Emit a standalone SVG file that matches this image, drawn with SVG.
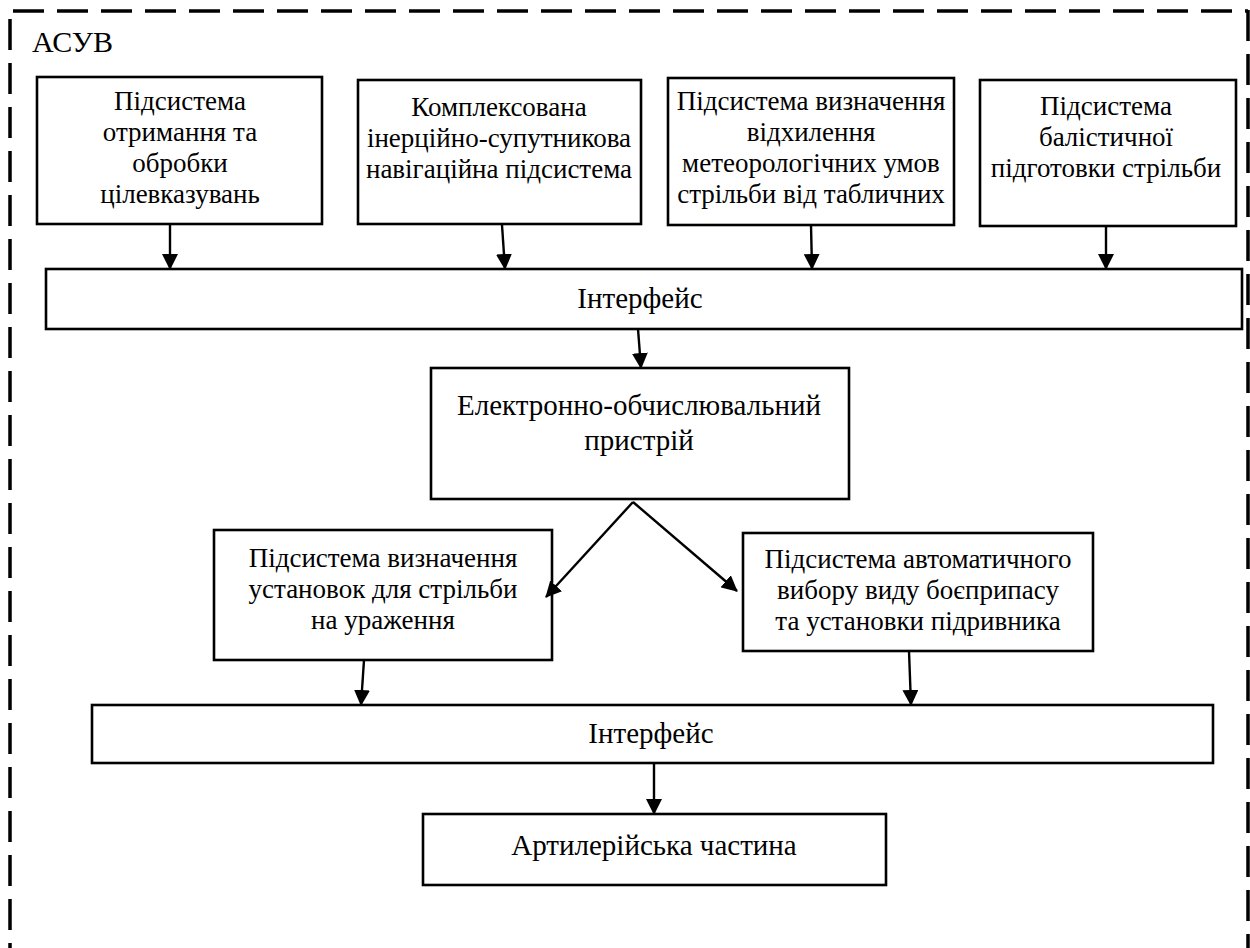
<svg xmlns="http://www.w3.org/2000/svg" width="1250" height="948" viewBox="0 0 1250 948">
<defs>
<style>
.box{fill:#fff;stroke:#000;stroke-width:2.6}
.t{font-family:"Liberation Serif","Times New Roman",serif;font-size:27px;fill:#000;text-anchor:middle}
.tl{font-family:"Liberation Serif","Times New Roman",serif;font-size:29px;fill:#000;text-anchor:middle}
.edge{stroke:#000;stroke-width:2.4;fill:none;marker-end:url(#ah)}
.border{stroke:#000;stroke-width:3.5;stroke-dasharray:31 13;fill:none}
</style>
<marker id="ah" viewBox="0 0 16 16" refX="15" refY="8" markerWidth="16" markerHeight="16" markerUnits="userSpaceOnUse" orient="auto">
<path d="M0,0 L16,8 L0,16 z" fill="#000"/>
</marker>
</defs>
<rect width="1250" height="948" fill="#fff"/>
<g id="frame">
<line class="border" x1="13" y1="11" x2="1248" y2="11"/>
<line class="border" x1="10" y1="19" x2="10" y2="948"/>
<line class="border" x1="1248" y1="10" x2="1248" y2="948"/>
<text x="32" y="52" font-family="Liberation Serif, Times New Roman, serif" font-size="30" fill="#000">АСУВ</text>
</g>
<g id="n1">
<rect class="box" x="37" y="77" width="285" height="147"/>
<text class="t" x="180" y="110">Підсистема</text>
<text class="t" x="180" y="141">отримання та</text>
<text class="t" x="180" y="172">обробки</text>
<text class="t" x="180" y="203">цілевказувань</text>
</g>
<g id="n2">
<rect class="box" x="358" y="80" width="283" height="144"/>
<text class="t" x="499" y="116">Комплексована</text>
<text class="t" x="499" y="147">інерційно-супутникова</text>
<text class="t" x="499" y="178">навігаційна підсистема</text>
</g>
<g id="n3">
<rect class="box" x="668" y="78" width="286" height="147"/>
<text class="t" x="811" y="110">Підсистема визначення</text>
<text class="t" x="811" y="141">відхилення</text>
<text class="t" x="811" y="172">метеорологічних умов</text>
<text class="t" x="811" y="203">стрільби від табличних</text>
</g>
<g id="n4">
<rect class="box" x="980" y="80" width="256" height="146"/>
<text class="t" x="1106" y="115">Підсистема</text>
<text class="t" x="1106" y="146">балістичної</text>
<text class="t" x="1106" y="177">підготовки стрільби</text>
</g>
<g id="n5">
<rect class="box" x="46" y="269" width="1196" height="60"/>
<text class="tl" x="640" y="308">Інтерфейс</text>
</g>
<g id="n6">
<rect class="box" x="431" y="368" width="418" height="131"/>
<text class="tl" x="639" y="415">Електронно-обчислювальний</text>
<text class="tl" x="639" y="450">пристрій</text>
</g>
<g id="n7">
<rect class="box" x="214" y="530" width="338" height="130"/>
<text class="t" x="383" y="567">Підсистема визначення</text>
<text class="t" x="383" y="598">установок для стрільби</text>
<text class="t" x="383" y="629">на ураження</text>
</g>
<g id="n8">
<rect class="box" x="743" y="533" width="350" height="118"/>
<text class="t" x="918" y="568">Підсистема автоматичного</text>
<text class="t" x="918" y="599">вибору виду боєприпасу</text>
<text class="t" x="918" y="630">та установки підривника</text>
</g>
<g id="n9">
<rect class="box" x="92" y="705" width="1121" height="58"/>
<text class="tl" x="651" y="743">Інтерфейс</text>
</g>
<g id="n10">
<rect class="box" x="423" y="814" width="463" height="71"/>
<text class="tl" x="654" y="855">Артилерійська частина</text>
</g>
<g id="connectors">
<line class="edge" x1="170" y1="224" x2="170" y2="269"/>
<line class="edge" x1="502" y1="225" x2="505" y2="269"/>
<line class="edge" x1="811" y1="225" x2="812" y2="269"/>
<line class="edge" x1="1106" y1="226" x2="1106" y2="269"/>
<line class="edge" x1="638" y1="329" x2="641" y2="368"/>
<line class="edge" x1="633" y1="502" x2="546" y2="597"/>
<line class="edge" x1="633" y1="502" x2="737" y2="591"/>
<line class="edge" x1="364" y1="660" x2="361" y2="705"/>
<line class="edge" x1="909" y1="651" x2="911" y2="705"/>
<line class="edge" x1="654" y1="763" x2="654" y2="814"/>
</g>
</svg>
